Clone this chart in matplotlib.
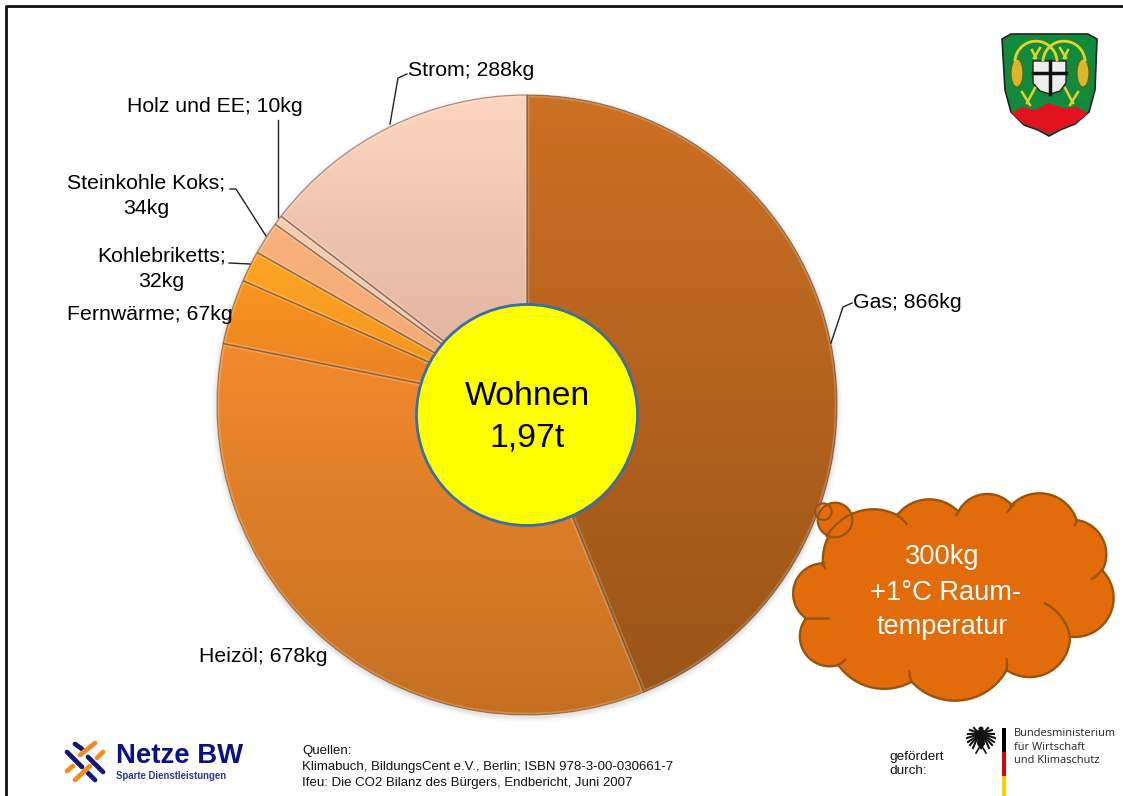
import numpy as np
import matplotlib
matplotlib.use("Agg")
import matplotlib.pyplot as plt
from matplotlib.patches import Circle, Polygon, Rectangle, PathPatch, Ellipse
from matplotlib.colors import to_rgb

plt.rcParams['font.family'] = ['Liberation Sans', 'DejaVu Sans']

categories = ["Gas", "Heizöl", "Fernwärme", "Kohlebriketts", "Steinkohle Koks", "Holz und EE", "Strom"]
values_kg = [866, 678, 67, 32, 34, 10, 288]
top_colors = ["#cc7024", "#f28a2c", "#f9951f", "#fda523", "#f9b27a", "#f7cdb0", "#fdd5c0"]
bottom_colors = ["#9a5518", "#c47022", "#e67f25", "#f09020", "#f0a878", "#e8c0a4", "#dcae98"]
total_label = "Wohnen\n1,97t"
W, H = 1123, 796
fig = plt.figure(figsize=(W/100, H/100), dpi=100)
ax = fig.add_axes([0, 0, 1, 1])


def Y(py):
    return H - py


def arc3(p0, p1, p2, n=40):
    """Sample a circular arc through three points."""
    (ax_, ay), (bx, by), (cx, cy) = p0, p1, p2
    d = 2 * (ax_ * (by - cy) + bx * (cy - ay) + cx * (ay - by))
    ux = ((ax_**2 + ay**2) * (by - cy) + (bx**2 + by**2) * (cy - ay) + (cx**2 + cy**2) * (ay - by)) / d
    uy = ((ax_**2 + ay**2) * (cx - bx) + (bx**2 + by**2) * (ax_ - cx) + (cx**2 + cy**2) * (bx - ax_)) / d
    r = np.hypot(ax_ - ux, ay - uy)
    a0 = np.arctan2(ay - uy, ax_ - ux)
    a1 = np.arctan2(by - uy, bx - ux)
    a2 = np.arctan2(cy - uy, cx - ux)
    da1 = (a1 - a0) % (2 * np.pi)
    da2 = (a2 - a0) % (2 * np.pi)
    if da1 < da2:
        t = np.linspace(0, da2, n)
    else:
        t = np.linspace(0, da2 - 2 * np.pi, n)
    return np.c_[ux + r * np.cos(a0 + t), uy + r * np.sin(a0 + t)]


def zc(p):
    """Cloud sketch coordinates to axes coordinates."""
    return (780 + p[0] / 3, Y(470 + p[1] / 3))


CX, CY, R = 527, Y(405), 310

# soft shadow
for i, a in zip(range(6, 0, -1), [.015, .02, .03, .04, .05, .06]):
    ax.add_patch(Circle((CX, CY - 2), R + i, fc="#808080", ec="none", alpha=a, zorder=1))

wedges, _ = ax.pie(values_kg, startangle=90, counterclock=False, center=(CX, CY), radius=R,
                   frame=False, wedgeprops=dict(edgecolor="none"))
for w, c0, c1 in zip(wedges, top_colors, bottom_colors):
    w.set_zorder(2)
    t = np.linspace(0, 1, 256)[:, None, None]
    c0, c1 = np.array(to_rgb(c0)), np.array(to_rgb(c1))
    img = c0[None, None, :] * (1 - t) + c1[None, None, :] * t
    bb = w.get_path().get_extents(w.get_patch_transform())
    im = ax.imshow(img, extent=(bb.x0, bb.x1, bb.y0, bb.y1), aspect="auto", zorder=2, origin="upper")
    im.set_clip_path(w)
    tr = w.get_patch_transform() + ax.transData
    hl = PathPatch(w.get_path(), transform=tr, fc="none", ec="#ffffff", lw=3.4, alpha=.2, zorder=3)
    ax.add_patch(hl)
    hl.set_clip_path(w)
    ax.add_patch(PathPatch(w.get_path(), transform=tr, fc="none", ec="#5a3a20", lw=1.0, alpha=.42, zorder=3))

# hub
ax.add_patch(Circle((CX, Y(415)), 110.5, fc="#ffff00", ec="#3b6da6", lw=2, zorder=5))
ax.text(CX, Y(417), total_label, ha="center", va="center", fontsize=24.3, linespacing=1.42, zorder=6)

# labels and leaders
lab = dict(fontsize=15.3, color="#000000", zorder=7)
ax.text(853, Y(303), "Gas; 866kg", ha="left", va="center", **lab)
ax.text(408, Y(71), "Strom; 288kg", ha="left", va="center", **lab)
ax.text(127, Y(107), "Holz und EE; 10kg", ha="left", va="center", **lab)
ax.text(146, Y(196), "Steinkohle Koks;\n34kg", ha="center", va="center", linespacing=1.42, **lab)
ax.text(161.5, Y(269), "Kohlebriketts;\n32kg", ha="center", va="center", linespacing=1.46, **lab)
ax.text(67, Y(314), "Fernwärme; 67kg", ha="left", va="center", **lab)
ax.text(199, Y(657), "Heizöl; 678kg", ha="left", va="center", **lab)
leaders = [
    [(831, 343), (843, 307), (852, 303)],
    [(390, 124), (398, 78), (407, 74)],
    [(278, 217), (278, 120)],
    [(266, 236), (236, 189), (230, 189)],
    [(250, 264), (229, 263)],
]
for pts in leaders:
    ax.plot([p[0] for p in pts], [Y(p[1]) for p in pts], color="#222222", lw=1, zorder=4)

# cloud
cf, ce = "#e36c0a", "#9a530f"
lobes = [((130, 290), (175, 160), (350, 135)), ((352, 135), (445, 88), (535, 125)),
         ((535, 125), (620, 72), (695, 105)), ((690, 110), (785, 70), (890, 150)),
         ((890, 150), (978, 240), (965, 305)), ((965, 300), (1000, 370), (870, 500)),
         ((870, 500), (800, 610), (680, 600)), ((680, 600), (530, 692), (395, 635)),
         ((395, 635), (290, 655), (175, 585)), ((175, 585), (65, 530), (78, 445)),
         ((78, 445), (40, 360), (130, 280))]
outline = np.vstack([arc3(*[zc(p) for p in lb]) for lb in lobes])
ax.add_patch(Polygon(outline, closed=True, fc=cf, ec=ce, lw=1.7, zorder=9))
hooks = [((350, 135), (366, 147), (380, 162)), ((535, 125), (532, 130), (530, 136)),
         ((700, 105), (692, 114), (683, 125)), ((890, 150), (888, 158), (885, 165)),
         ((965, 300), (952, 315), (935, 327)), ((795, 400), (850, 450), (870, 500)),
         ((680, 600), (681, 585), (680, 568)), ((395, 635), (390, 620), (388, 603)),
         ((175, 585), (185, 578), (195, 570)), ((78, 445), (110, 446), (145, 445)),
         ((130, 280), (132, 288), (135, 295))]
for h in hooks:
    pts = arc3(*[zc(p) for p in h], n=12)
    ax.plot(pts[:, 0], pts[:, 1], color=ce, lw=1.7, zorder=10)
ax.add_patch(Circle(zc((165, 150)), 17.3, fc=cf, ec=ce, lw=1.6, zorder=10))
ax.add_patch(Circle(zc((130, 125)), 8.3, fc=cf, ec="none", alpha=.6, zorder=8))
ax.add_patch(Circle(zc((130, 125)), 8.3, fc="none", ec=ce, lw=1.5, zorder=11))
pts = arc3(zc((140, 198)), zc((175, 158)), zc((218, 130)), n=20)
ax.plot(pts[:, 0], pts[:, 1], color=ce, lw=1.6, zorder=11)
ax.text(942, Y(557), "300kg", color="white", ha="center", va="center", fontsize=19.6, zorder=12)
ax.text(946, Y(593), "+1°C Raum-", color="white", ha="center", va="center", fontsize=19.6, zorder=12)
ax.text(942, Y(627), "temperatur", color="white", ha="center", va="center", fontsize=19.6, zorder=12)

# coat of arms
shield = [(1002, 39), (1011, 34), (1088, 34), (1097, 39), (1095, 90), (1089, 112), (1075, 124), (1060, 130),
          (1049, 136), (1038, 130), (1024, 125), (1011, 112), (1005, 90)]
ax.add_patch(Polygon([(x, Y(y)) for x, y in shield], fc="#118a3c", ec="#222222", lw=1.2, zorder=3))
red = [(1011, 113), (1023, 107), (1035, 110), (1048, 103), (1063, 108), (1077, 107), (1088, 114), (1075, 123),
       (1060, 129), (1049, 134), (1038, 129), (1024, 124)]
ax.add_patch(Polygon([(x, Y(y)) for x, y in red], fc="#e2131e", ec="none", zorder=4))
cross = [(1033, 61), (1066, 61), (1066, 83), (1060, 91), (1050, 94), (1040, 91), (1033, 83)]
ax.add_patch(Polygon([(x, Y(y)) for x, y in cross], fc="#eeeeee", ec="#222222", lw=1, zorder=4))
ax.plot([1049.5, 1049.5], [Y(61), Y(94)], color="#111111", lw=2.5, zorder=5)
ax.plot([1033, 1066], [Y(73), Y(73)], color="#111111", lw=2.5, zorder=5)
for cx, cy in [(1017, 73), (1083, 73)]:
    ax.add_patch(Ellipse((cx, Y(cy)), 12, 28, fc="#d8b72d", ec="#6b5a10", lw=.8, zorder=4))
for a, b, c in [((1015, 60), (1030, 42), (1057, 60)), ((1085, 60), (1070, 42), (1043, 60))]:
    pts = arc3((a[0], Y(a[1])), (b[0], Y(b[1])), (c[0], Y(c[1])), n=20)
    ax.plot(pts[:, 0], pts[:, 1], color="#e6d02a", lw=2, zorder=4)
stalks = [((1022, 92), (1030, 105)), ((1035, 88), (1027, 103)), ((1078, 92), (1070, 105)), ((1065, 88), (1073, 103)),
          ((1032, 50), (1036, 58)), ((1040, 48), (1034, 58)), ((1068, 50), (1064, 58)), ((1060, 48), (1066, 58))]
for a, b in stalks:
    ax.plot([a[0], b[0]], [Y(a[1]), Y(b[1])], color="#e6d02a", lw=1.8, zorder=4)

# Netze BW logo
strokes = [((75, 744), (82, 749), "#14147e"), ((67, 752), (82, 767), "#14147e"), ((88, 757), (103, 772), "#14147e"),
           ((88, 773), (95, 780), "#14147e"), ((80, 755), (95, 743), "#f28c1e"), ((67, 771), (73, 766), "#f28c1e"),
           ((75, 780), (90, 766), "#f28c1e"), ((97, 758), (103, 752), "#f28c1e")]
for a, b, c in strokes:
    ax.plot([a[0], b[0]], [Y(a[1]), Y(b[1])], color=c, lw=3.4, solid_capstyle="round", zorder=3)
ax.text(116, Y(756), "Netze BW", color="#0a0f8c", fontsize=19.8, fontweight="bold", ha="left", va="center", zorder=3)
ax.text(116, Y(776), "Sparte Dienstleistungen", color="#2a3a8c", fontsize=6.95, fontweight="bold", ha="left", va="center", zorder=3)

# sources
src = dict(fontsize=9.55, ha="left", va="center", color="#111111")
ax.text(302, Y(751), "Quellen:", **src)
ax.text(302, Y(767), "Klimabuch, BildungsCent e.V., Berlin; ISBN 978-3-00-030661-7", **src)
ax.text(302, Y(783), "Ifeu: Die CO2 Bilanz des Bürgers, Endbericht, Juni 2007", **src)
ax.text(889, Y(764), "gefördert\ndurch:", fontsize=9.7, ha="left", va="center", linespacing=1.25, color="#111111")

# ministry
ax.add_patch(Rectangle((1002, Y(752)), 4, 24, fc="#000000", ec="none"))
ax.add_patch(Rectangle((1002, Y(776)), 4, 24, fc="#dd0000", ec="none"))
ax.add_patch(Rectangle((1002, Y(796)), 4, 20, fc="#ffce00", ec="none"))
# eagle: body, head and fanned wing feathers
ax.add_patch(Polygon([(x, Y(y)) for x, y in [(978, 730), (984, 730), (985, 744), (981, 750), (977, 744)]],
                     fc="#111111", ec="none"))
ax.add_patch(Circle((981, Y(729)), 2.5, fc="#111111", ec="none"))
for side in (-1, 1):
    for dx, dy in [(7, -3), (11, -1), (13, 3), (14, 7), (13, 11), (11, 14), (8, 17)]:
        ax.plot([981 + side * 3, 981 + side * dx], [Y(733 + dy * .2), Y(731 + dy)], color="#111111", lw=1.5, zorder=3)
    ax.plot([981 + side * 2, 981 + side * 5], [Y(748), Y(753)], color="#111111", lw=1.2, zorder=3)
ax.text(1014, Y(747), "Bundesministerium\nfür Wirtschaft\nund Klimaschutz", family=["Open Sans", "DejaVu Sans"],
        fontsize=7.9, color="#222222", ha="left", va="center", linespacing=1.3)

# frame: left and top edges only
ax.plot([5.5, 5.5, W], [0, Y(5.5), Y(5.5)], color="#111111", lw=2, zorder=20)

ax.set_xlim(0, W)
ax.set_ylim(0, H)
ax.set_aspect("auto")
ax.axis("off")
fig.savefig("out.png", dpi=100, facecolor="white")
